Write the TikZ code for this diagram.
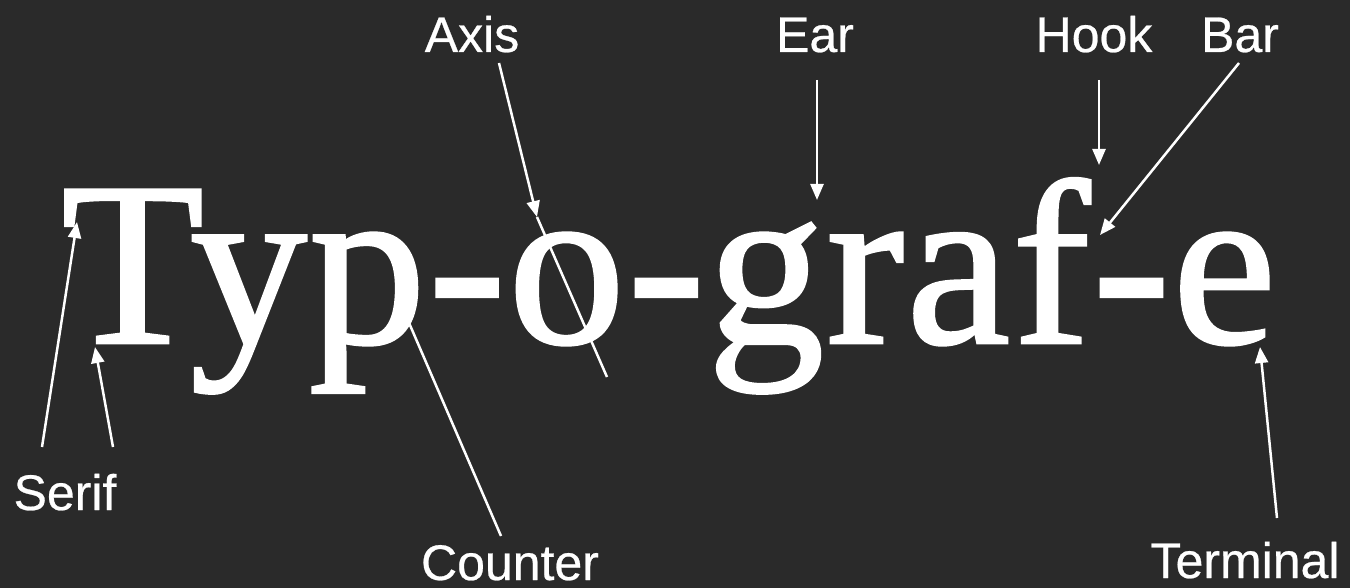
\documentclass[tikz,border=0pt]{standalone}
\usepackage{fontspec}
\setmainfont{Liberation Serif}
\newfontfamily\bigfont[FakeBold=1.2,LetterSpace=0.9]{Liberation Serif}
\newfontfamily\labelfont[FakeBold=0.5]{Liberation Sans}
\usetikzlibrary{arrows.meta}
\definecolor{bgcol}{HTML}{2A2A2A}
\begin{document}
\begin{tikzpicture}[x=1pt,y=-1pt,
  lbl/.style={anchor=base,inner sep=0pt,text=white,font=\labelfont\fontsize{50}{50}\selectfont},
  arr/.style={draw=white,line width=2.5pt,-{Triangle[length=16pt,width=13pt]}},
  plain/.style={draw=white,line width=2.5pt}]
\fill[bgcol] (0,0) rectangle (1350,588);
\useasboundingbox (0,0) rectangle (1350,588);
% main word
\node[anchor=base west,inner sep=0pt,text=white,font=\bigfont\fontsize{234}{234}\selectfont] (word) at (61,343) {Typ-o-graf-e};
% labels
\node[lbl] (axis) at (472,52) {Axis};
\node[lbl] (ear) at (815,52) {Ear};
\node[lbl] (hook) at (1094,52) {Hook};
\node[lbl] (bar) at (1240,52) {Bar};
\node[lbl] (serif) at (65,510) {Serif};
\node[lbl] (counter) at (510,580) {Counter};
\node[lbl] (terminal) at (1245,578) {Terminal};
% connector end points
\coordinate (s1a) at (42,447);  \coordinate (s1b) at (77,222);
\coordinate (s2a) at (113,447); \coordinate (s2b) at (95,347);
\coordinate (axa) at (499,63);  \coordinate (axb) at (537,217); \coordinate (axc) at (607,377);
\coordinate (ca) at (501,536);  \coordinate (cb) at (397,295);
\coordinate (ea) at (817,80);   \coordinate (eb) at (817,200);
\coordinate (ha) at (1099,80);  \coordinate (hb) at (1099,165);
\coordinate (ba) at (1239,63);  \coordinate (bb) at (1100,235);
\coordinate (ta) at (1277,518); \coordinate (tb) at (1260,347);
% connectors
\draw[arr] (s1a) -- (s1b);
\draw[arr] (s2a) -- (s2b);
\draw[plain] (axb) -- (axc);
\draw[arr] (axa) -- (axb);
\draw[arr] (ca) -- (cb);
\draw[arr] (ea) -- (eb);
\draw[arr] (ha) -- (hb);
\draw[arr] (ba) -- (bb);
\draw[arr] (ta) -- (tb);
\end{tikzpicture}
\end{document}
